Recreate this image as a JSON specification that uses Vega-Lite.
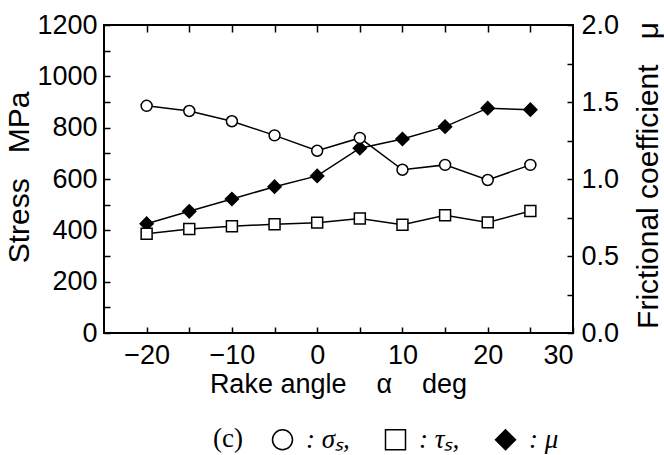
{
  "$schema": "https://vega.github.io/schema/vega-lite/v6.json",
  "width": 469,
  "height": 308,
  "autosize": {"type": "none"},
  "padding": {"left": 104, "top": 25, "right": 91, "bottom": 122},
  "background": "white",
  "datasets": {
    "stress": [
      {"alpha": -20, "series": "sigma", "value": 885},
      {"alpha": -15, "series": "sigma", "value": 865},
      {"alpha": -10, "series": "sigma", "value": 825},
      {"alpha": -5, "series": "sigma", "value": 770},
      {"alpha": 0, "series": "sigma", "value": 710},
      {"alpha": 5, "series": "sigma", "value": 760},
      {"alpha": 10, "series": "sigma", "value": 636},
      {"alpha": 15, "series": "sigma", "value": 655},
      {"alpha": 20, "series": "sigma", "value": 596},
      {"alpha": 25, "series": "sigma", "value": 655},
      {"alpha": -20, "series": "tau", "value": 387},
      {"alpha": -15, "series": "tau", "value": 405},
      {"alpha": -10, "series": "tau", "value": 416},
      {"alpha": -5, "series": "tau", "value": 424},
      {"alpha": 0, "series": "tau", "value": 430},
      {"alpha": 5, "series": "tau", "value": 446},
      {"alpha": 10, "series": "tau", "value": 422},
      {"alpha": 15, "series": "tau", "value": 459},
      {"alpha": 20, "series": "tau", "value": 431},
      {"alpha": 25, "series": "tau", "value": 475}
    ],
    "friction": [
      {"alpha": -20, "series": "mu", "value": 0.71},
      {"alpha": -15, "series": "mu", "value": 0.79},
      {"alpha": -10, "series": "mu", "value": 0.87},
      {"alpha": -5, "series": "mu", "value": 0.95},
      {"alpha": 0, "series": "mu", "value": 1.02},
      {"alpha": 5, "series": "mu", "value": 1.2},
      {"alpha": 10, "series": "mu", "value": 1.26},
      {"alpha": 15, "series": "mu", "value": 1.34},
      {"alpha": 20, "series": "mu", "value": 1.46},
      {"alpha": 25, "series": "mu", "value": 1.45}
    ]
  },
  "layer": [
    {
      "data": {"name": "friction"},
      "encoding": {
        "x": {"field": "alpha", "type": "quantitative", "scale": {"domain": [-25, 30], "nice": false, "zero": false}, "axis": null},
        "y": {
          "field": "value", "type": "quantitative",
          "scale": {"domain": [0, 2], "nice": false},
          "axis": {
            "orient": "right",
            "values": [0, 0.25, 0.5, 0.75, 1, 1.25, 1.5, 1.75, 2],
            "format": ".1f",
            "labelExpr": "round(datum.value * 4) % 2 === 0 ? datum.label : ''",
            "tickSize": -6,
            "labelPadding": 14,
            "title": "Frictional coefficient\u00a0\u00a0\u00a0μ",
            "titleFontSize": 30,
            "titleAngle": -90,
            "titleAlign": "center",
            "titleBaseline": "alphabetic",
            "titleX": 84,
            "titleY": 150
          }
        }
      },
      "layer": [
        {"mark": {"type": "line", "color": "black", "strokeWidth": 1.5}},
        {
          "mark": {"type": "point", "filled": true, "opacity": 1, "strokeWidth": 1.5, "size": 170},
          "encoding": {
            "shape": {"field": "series", "type": "nominal", "scale": {"domain": ["sigma", "tau", "mu"], "range": ["circle", "square", "diamond"]}},
            "fill": {"field": "series", "type": "nominal", "scale": {"domain": ["sigma", "tau", "mu"], "range": ["white", "white", "black"]}},
            "stroke": {"field": "series", "type": "nominal", "scale": {"domain": ["sigma", "tau", "mu"], "range": ["black", "black", "black"]}}
          }
        }
      ]
    },
    {
      "data": {"name": "stress"},
      "encoding": {
        "x": {
          "field": "alpha", "type": "quantitative",
          "scale": {"domain": [-25, 30], "nice": false, "zero": false},
          "axis": {
            "orient": "bottom",
            "values": [-20, -15, -10, -5, 0, 5, 10, 15, 20, 25, 30],
            "labelExpr": "datum.value % 10 === 0 ? datum.label : ''",
            "tickSize": -6,
            "labelPadding": 15,
            "title": "Rake angle\u00a0\u00a0\u00a0\u00a0α\u00a0\u00a0\u00a0\u00a0deg",
            "titleAlign": "center",
            "titleBaseline": "alphabetic",
            "titleX": 234,
            "titleY": 59
          }
        },
        "y": {
          "field": "value", "type": "quantitative",
          "scale": {"domain": [0, 1200], "nice": false},
          "axis": {
            "orient": "left",
            "values": [0, 100, 200, 300, 400, 500, 600, 700, 800, 900, 1000, 1100, 1200],
            "labelExpr": "datum.value % 200 === 0 ? datum.label : ''",
            "format": "d",
            "tickSize": -6,
            "labelPadding": 13,
            "title": "Stress\u00a0\u00a0\u00a0MPa",
            "titleFontSize": 30,
            "titleAngle": -90,
            "titleAlign": "center",
            "titleBaseline": "alphabetic",
            "titleX": -76,
            "titleY": 152
          }
        }
      },
      "layer": [
        {
          "mark": {"type": "line", "color": "black", "strokeWidth": 1.5},
          "encoding": {"detail": {"field": "series", "type": "nominal"}}
        },
        {
          "mark": {"type": "point", "filled": true, "opacity": 1, "strokeWidth": 1.5, "size": 120},
          "encoding": {
            "shape": {
              "field": "series", "type": "nominal",
              "scale": {"domain": ["sigma", "tau", "mu"], "range": ["circle", "square", "diamond"]},
              "legend": {
                "orient": "none", "legendX": 109, "legendY": 401, "direction": "horizontal",
                "title": "(c)", "titleOrient": "left",
                "labelExpr": "datum.value === 'sigma' ? ': σₛ,' : datum.value === 'tau' ? ': τₛ,' : ': μ'"
              }
            },
            "fill": {
              "field": "series", "type": "nominal",
              "scale": {"domain": ["sigma", "tau", "mu"], "range": ["white", "white", "black"]},
              "legend": {
                "orient": "none", "legendX": 109, "legendY": 401, "direction": "horizontal",
                "title": "(c)", "titleOrient": "left",
                "labelExpr": "datum.value === 'sigma' ? ': σₛ,' : datum.value === 'tau' ? ': τₛ,' : ': μ'"
              }
            },
            "stroke": {
              "field": "series", "type": "nominal",
              "scale": {"domain": ["sigma", "tau", "mu"], "range": ["black", "black", "black"]},
              "legend": {
                "orient": "none", "legendX": 109, "legendY": 401, "direction": "horizontal",
                "title": "(c)", "titleOrient": "left",
                "labelExpr": "datum.value === 'sigma' ? ': σₛ,' : datum.value === 'tau' ? ': τₛ,' : ': μ'"
              }
            }
          }
        }
      ]
    },
    {
      "data": {"name": "stress"},
      "mark": {"type": "point", "opacity": 0},
      "encoding": {
        "x": {
          "field": "alpha", "type": "quantitative",
          "scale": {"domain": [-25, 30], "nice": false, "zero": false},
          "axis": {
            "orient": "top",
            "values": [-20, -15, -10, -5, 0, 5, 10, 15, 20, 25],
            "labels": false,
            "tickSize": -7,
            "title": null
          }
        }
      }
    }
  ],
  "resolve": {"scale": {"y": "independent"}},
  "config": {
    "view": {"stroke": "black", "strokeWidth": 2},
    "axis": {
      "domain": false,
      "grid": false,
      "tickColor": "black",
      "tickWidth": 1.5,
      "labelFont": "Liberation Sans",
      "labelFontSize": 27,
      "labelColor": "black",
      "titleFont": "Liberation Sans",
      "titleFontSize": 27,
      "titleFontWeight": "normal",
      "titleColor": "black"
    },
    "legend": {
      "titleFont": "Liberation Serif",
      "titleFontSize": 27,
      "titleFontWeight": "normal",
      "titleColor": "black",
      "titlePadding": 26,
      "labelFont": "Liberation Serif",
      "labelFontSize": 27,
      "labelFontStyle": "italic",
      "labelColor": "black",
      "labelOffset": 10,
      "columnPadding": 32,
      "symbolSize": 400,
      "symbolStrokeWidth": 1.5,
      "labelLimit": 200
    }
  }
}
